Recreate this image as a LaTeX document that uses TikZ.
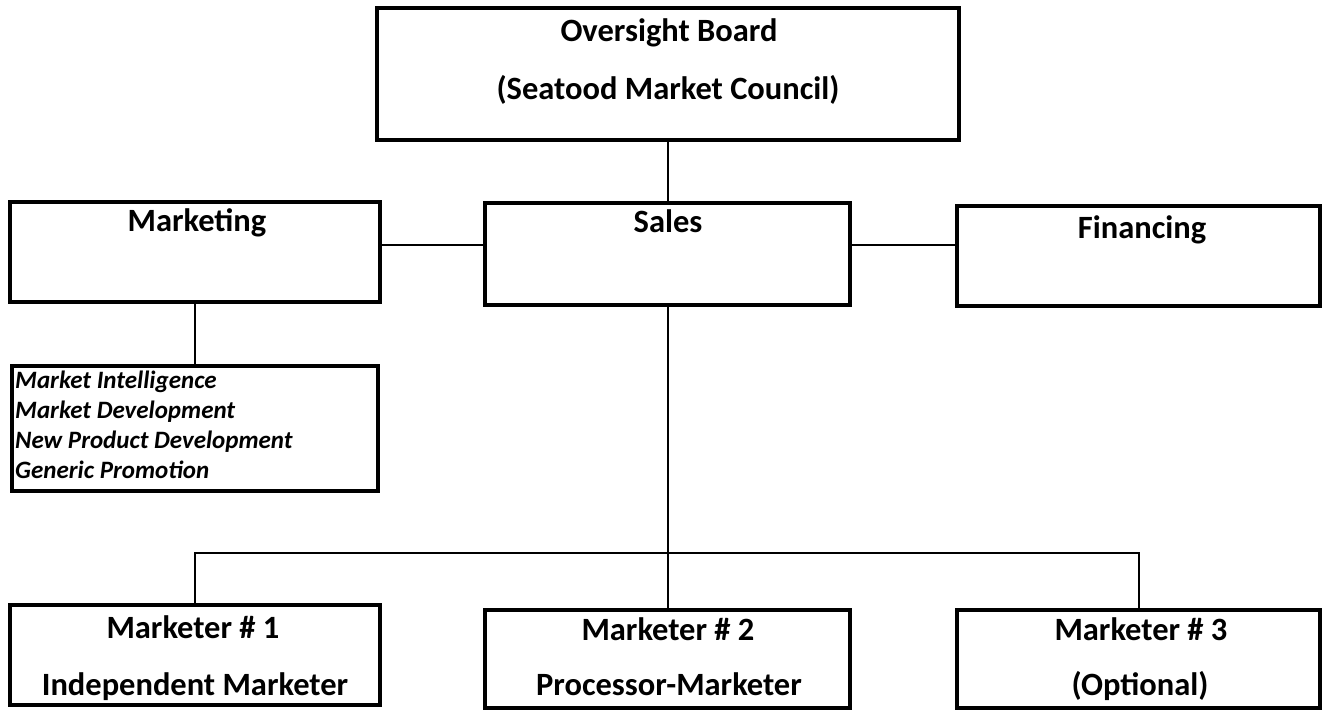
\documentclass[tikz,border=0pt]{standalone}
\usepackage{fontspec}
\setmainfont{Carlito}
\begin{document}
\begin{tikzpicture}[x=1pt,y=-1pt,
  box/.style={draw, line width=3.2pt, rectangle, inner sep=0pt, fill=white},
  link/.style={draw, line width=2pt},
  title/.style={anchor=base, inner sep=0pt, font=\fontsize{32.5}{39}\selectfont\bfseries},
  items/.style={anchor=north west, inner sep=0pt, align=left,
    font=\fontsize{25}{30}\selectfont\bfseries\itshape}]
\useasboundingbox (0,0) rectangle (1329,711);

% boxes
\node[box, minimum width=582pt, minimum height=132pt] (board) at (668,74) {};
\node[box, minimum width=370pt, minimum height=100pt] (mkt)   at (195,252) {};
\node[box, minimum width=365pt, minimum height=102pt] (sales) at (667.5,254) {};
\node[box, minimum width=363pt, minimum height=100pt] (fin)   at (1138.5,256) {};
\node[box, minimum width=366pt, minimum height=125pt] (list)  at (195,428.5) {};
\node[box, minimum width=370pt, minimum height=100pt] (m1)    at (195,655) {};
\node[box, minimum width=365pt, minimum height=98pt]  (m2)    at (667.5,659) {};
\node[box, minimum width=363pt, minimum height=98pt]  (m3)    at (1138.5,659) {};

% connectors
\coordinate (bus) at (667.5,553);
\coordinate (row) at (0,245);
\draw[link] (board.south -| bus) -- (sales.north -| bus);
\draw[link] (mkt.east |- row) -- (sales.west |- row);
\draw[link] (sales.east |- row) -- (fin.west |- row);
\draw[link] (mkt.south) -- (list.north);
\draw[link] (sales.south -| bus) -- (m2.north -| bus);
\draw[link] (m1.north) |- (bus) -| (m3.north);

% texts
\node[title] (t-board1) at (669,42)  {Oversight Board};
\node[title] (t-board2) at (668,100) {(Seatood Market Council)};
\node[title] (t-mkt)    at (197,232) {Marketing};
\node[title] (t-sales)  at (668,233) {Sales};
\node[title] (t-fin)    at (1142,238) {Financing};
\node[items] (t-list) at (15,371) {Market Intelligence\\Market Development\\New Product Development\\Generic Promotion};
\node[title] (t-m1a) at (193,638) {Marketer \# 1};
\node[title] (t-m1b) at (195,695) {Independent Marketer};
\node[title] (t-m2a) at (668,640) {Marketer \# 2};
\node[title] (t-m2b) at (669,695) {Processor-Marketer};
\node[title] (t-m3a) at (1141,640) {Marketer \# 3};
\node[title] (t-m3b) at (1140,695) {(Optional)};
\end{tikzpicture}
\end{document}
